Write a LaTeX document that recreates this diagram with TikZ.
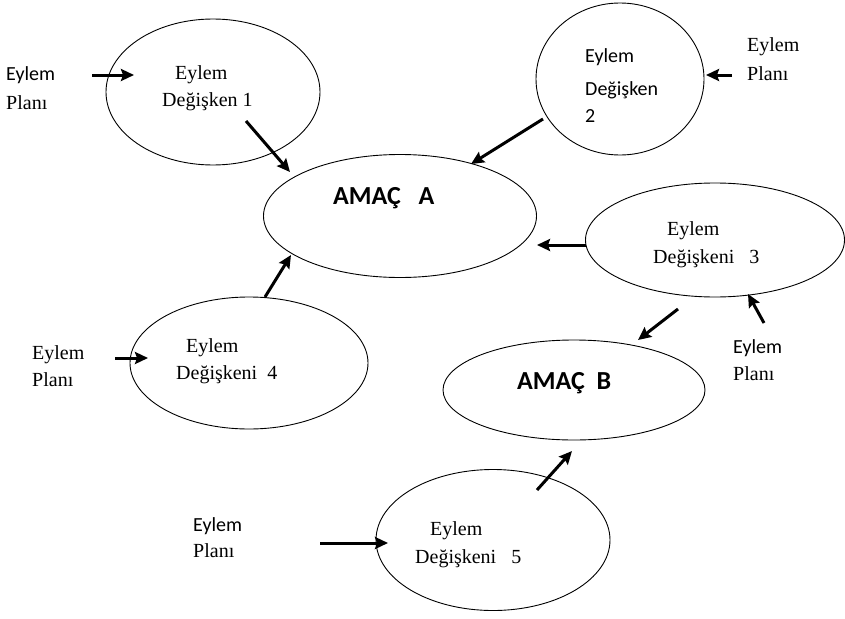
\documentclass[tikz,border=0pt]{standalone}
\usepackage{fontspec}
\setmainfont{Liberation Serif}
\newfontfamily\calfont{Carlito}
\usetikzlibrary{shapes.geometric,arrows.meta}
\begin{document}
\begin{tikzpicture}[x=1pt,y=-1pt,
  oval/.style={ellipse,draw,line width=0.9pt,inner sep=0pt},
  lbl/.style={anchor=base west,inner sep=0pt,font=\fontsize{20}{22}\selectfont},
  slbl/.style={anchor=base west,inner sep=0pt,font=\calfont\fontsize{20}{22}\selectfont},
  goal/.style={anchor=base west,inner sep=0pt,font=\calfont\bfseries\fontsize{26}{30}\selectfont},
  arr/.style={-{Stealth[length=13pt,width=12pt,inset=2pt]},line width=3pt}]
\useasboundingbox (0,0) rectangle (845,618);
% ellipses
\node[oval,minimum width=214pt,minimum height=146pt] (e1) at (213,92) {};
\node[oval,minimum width=168pt,minimum height=152pt] (e2) at (620,79) {};
\node[oval,minimum width=273pt,minimum height=123pt] (ga) at (400,216) {};
\node[oval,minimum width=259pt,minimum height=114pt] (e3) at (715,240) {};
\node[oval,minimum width=262pt,minimum height=100pt] (gb) at (574,390) {};
\node[oval,minimum width=238pt,minimum height=132pt] (e4) at (249,363) {};
\node[oval,minimum width=234pt,minimum height=141pt] (e5) at (493,540) {};
% texts
\node[slbl] (p1a) at (6,81) {Eylem};
\node[lbl] (p1b) at (6,109) {Planı};
\node[lbl] (t1a) at (175,79) {Eylem};
\node[lbl] (t1b) at (162,106) {Değişken 1};
\node[slbl] (t2a) at (585,63) {Eylem};
\node[slbl] (t2b) at (585,95) {Değişken};
\node[slbl] (t2c) at (585,122) {2};
\node[lbl] (p2a) at (747,52) {Eylem};
\node[lbl] (p2b) at (747,80) {Planı};
\node[goal] (tga) at (333,204) {AMAÇ\ \ \ A};
\node[lbl] (t3a) at (667,235) {Eylem};
\node[lbl] (t3b) at (653,263) {Değişkeni\ \ \ 3};
\node[slbl] (p3a) at (733,353) {Eylem};
\node[lbl] (p3b) at (733,380) {Planı};
\node[goal] (tgb) at (517,389) {AMAÇ\ \ B};
\node[lbl] (t4a) at (186,352) {Eylem};
\node[lbl] (t4b) at (176,379) {Değişkeni\ \ 4};
\node[lbl] (p4a) at (32,359) {Eylem};
\node[lbl] (p4b) at (32,386) {Planı};
\node[lbl] (t5a) at (430,535) {Eylem};
\node[lbl] (t5b) at (415,563) {Değişkeni\ \ \ 5};
\node[slbl] (p5a) at (193,531) {Eylem};
\node[lbl] (p5b) at (193,557) {Planı};
% arrow end points
\coordinate (a1s) at (92,75);  \coordinate (a1e) at (134,75);
\coordinate (a2s) at (246,121); \coordinate (a2e) at (290,172);
\coordinate (a3s) at (543,119); \coordinate (a3e) at (471,164);
\coordinate (a4s) at (732,75);  \coordinate (a4e) at (706,75);
\coordinate (a5s) at (586,245); \coordinate (a5e) at (537,245);
\coordinate (a6s) at (265,297); \coordinate (a6e) at (291,255);
\coordinate (a7s) at (115,358); \coordinate (a7e) at (148,358);
\coordinate (a8s) at (678,309); \coordinate (a8e) at (638,340);
\coordinate (a9s) at (764,323); \coordinate (a9e) at (748,294);
\coordinate (a10s) at (320,543); \coordinate (a10e) at (388,543);
\coordinate (a11s) at (537,490); \coordinate (a11e) at (572,451);
\draw[arr] (a1s) -- (a1e);
\draw[arr] (a2s) -- (a2e);
\draw[arr] (a3s) -- (a3e);
\draw[arr] (a4s) -- (a4e);
\draw[arr] (a5s) -- (a5e);
\draw[arr] (a6s) -- (a6e);
\draw[arr] (a7s) -- (a7e);
\draw[arr] (a8s) -- (a8e);
\draw[arr] (a9s) -- (a9e);
\draw[arr] (a10s) -- (a10e);
\draw[arr] (a11s) -- (a11e);
\end{tikzpicture}
\end{document}
